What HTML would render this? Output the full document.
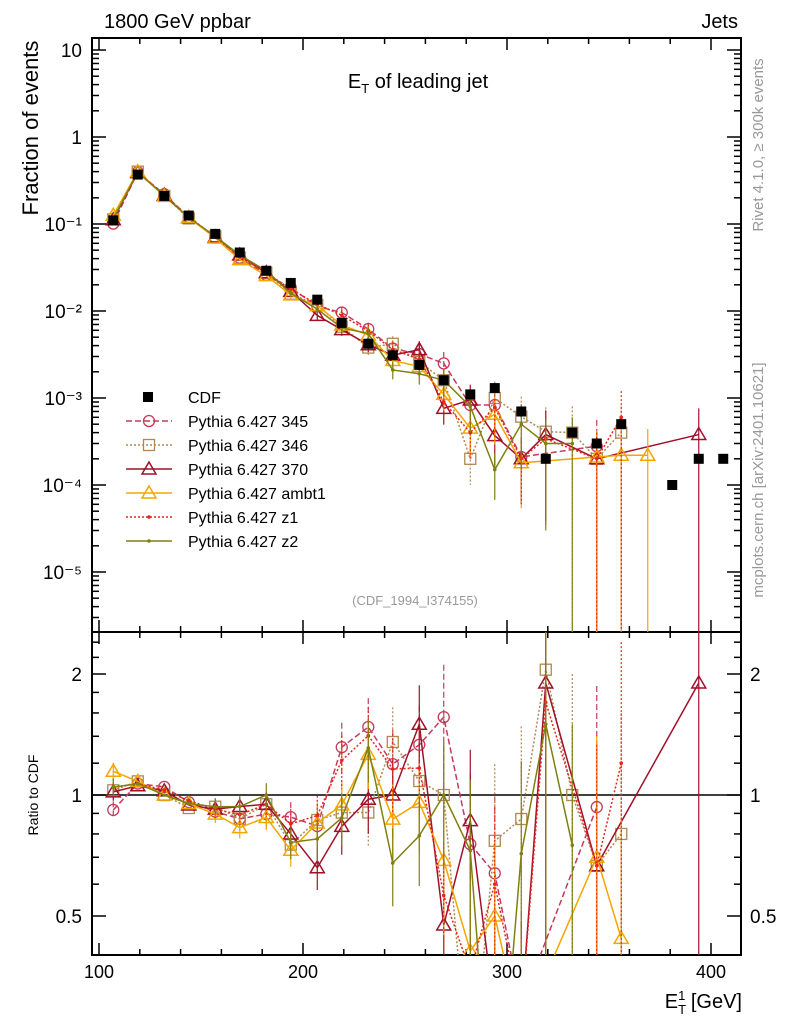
<!DOCTYPE html>
<html><head><meta charset="utf-8"><style>
html,body{margin:0;padding:0;background:#fff;overflow:hidden;width:786px;height:1024px;}
svg{display:block;}
svg text{font-family:"Liberation Sans",Arial,sans-serif;}
</style></head><body>
<svg id="c" width="786" height="1024" xmlns="http://www.w3.org/2000/svg">
<text x="104" y="28" font-size="20">1800 GeV ppbar</text>
<text x="738" y="28" font-size="20" text-anchor="end">Jets</text>
<text x="418" y="88" font-size="20" text-anchor="middle">E<tspan font-size="13" dy="5">T</tspan><tspan dy="-5"> of leading jet</tspan></text>
<text transform="translate(38,128) rotate(-90)" font-size="22" text-anchor="middle">Fraction of events</text>
<text transform="translate(38,795) rotate(-90)" font-size="14" text-anchor="middle">Ratio to CDF</text>
<text transform="translate(763,145) rotate(-90)" font-size="15" fill="#999" text-anchor="middle">Rivet 4.1.0, ≥ 300k events</text>
<text transform="translate(763,480) rotate(-90)" font-size="15" fill="#999" text-anchor="middle">mcplots.cern.ch [arXiv:2401.10621]</text>
<text x="415" y="605" font-size="13" fill="#999" text-anchor="middle">(CDF_1994_I374155)</text>
<text x="742" y="1008" font-size="20" text-anchor="end">E<tspan font-size="13" dy="6">T</tspan><tspan font-size="13" dx="-8" dy="-14">1</tspan><tspan dy="8"> [GeV]</tspan></text>
<g id="g"></g>
</svg>
<script>
const xs=[107,119,132,144,157,169,182,194,207,219,232,244,257,269,282,294,307,319,332,344,356,369,381,394,406];
const cdf=[0.11,0.37,0.21,0.125,0.077,0.047,0.029,0.021,0.0135,0.0073,0.0042,0.0031,0.0024,0.0016,0.0011,0.0013,0.0007,0.0002,0.0004,0.0003,0.0005,null,0.0001,0.0002,0.0002];
const s345=[0.101,0.395,0.22,0.12,0.07,0.041,0.026,0.0185,0.0113,0.0096,0.0062,0.0037,0.0032,0.0025,0.00083,0.00083,0.00021,null,null,0.00028];
const s346=[0.113,0.40,0.21,0.116,0.072,0.041,0.0275,0.0158,0.0117,0.0066,0.0038,0.0042,0.0026,0.0016,0.0002,0.001,0.00061,0.00041,0.0004,0.0002,0.0004];
const s370=[0.112,0.39,0.215,0.118,0.071,0.044,0.0275,0.0168,0.0089,0.0061,0.0041,0.0031,0.0036,0.00076,0.00095,0.00037,0.0002,0.00038,null,0.0002,null,null,null,0.00038];
const sambt1=[0.126,0.40,0.21,0.119,0.069,0.039,0.0255,0.0153,0.0115,0.0069,0.0053,0.0027,0.0023,0.0011,0.00045,0.00065,0.00018,null,null,0.00021,0.00022,0.00022];
const sz1=[0.115,0.395,0.216,0.121,0.071,0.042,0.0275,0.0178,0.012,0.0089,0.0059,0.0036,0.0028,0.0009,0.0004,0.00078,0.0002,0.00034,null,0.0002,0.0006];
const sz2=[0.115,0.395,0.21,0.119,0.072,0.044,0.029,0.016,0.0105,0.0064,0.0055,0.0021,0.0019,0.0016,0.0008,0.00015,0.0005,0.0003,0.0003];
const relErr=[0.05,0.03,0.03,0.03,0.05,0.06,0.07,0.09,0.12,0.15,0.18,0.22,0.25,0.35,0.5,0.55,0.7,0.9,1,1,1,1,1,1,1];
const series=[
 {name:"Pythia 6.427 345",d:s345,c:"#c43a5a",dash:"6,3",m:"circle",key:"345"},
 {name:"Pythia 6.427 346",d:s346,c:"#b08850",dash:"2,2",m:"square",key:"346"},
 {name:"Pythia 6.427 370",d:s370,c:"#a0102a",dash:"",m:"tri",key:"370"},
 {name:"Pythia 6.427 ambt1",d:sambt1,c:"#f5a500",dash:"",m:"tri",key:"ambt1"},
 {name:"Pythia 6.427 z1",d:sz1,c:"#e8251a",dash:"2,2",m:"dot",key:"z1"},
 {name:"Pythia 6.427 z2",d:sz2,c:"#808010",dash:"",m:"dot",key:"z2"}];
const xTicks=[100,200,300,400];
const yTicks=[1e-5,1e-4,1e-3,1e-2,1e-1,1,10];
const yTickLabels=["10⁻⁵","10⁻⁴","10⁻³","10⁻²","10⁻¹","1","10"];
const rTicks=[0.5,1,2];
const L=92,R=741,T=38,MB=632,RB=955;
const X=v=>99+(v-100)*2.04;
const Y=v=>137-87*Math.log10(v);
const RY=v=>795-121*Math.log2(v);
const g=document.getElementById('g');
const NS="http://www.w3.org/2000/svg";
function el(t,a,p){const e=document.createElementNS(NS,t);for(const k in a)e.setAttribute(k,a[k]);(p||g).appendChild(e);return e;}
const defs=el('defs',{});
const c1=el('clipPath',{id:'cm'},defs);el('rect',{x:L,y:T,width:R-L,height:MB-T},c1);
const c2=el('clipPath',{id:'cr'},defs);el('rect',{x:L,y:MB,width:R-L,height:RB-MB},c2);
const f1=el('rect',{x:L,y:T,width:R-L,height:MB-T,fill:'none',stroke:'#000','stroke-width':2});

const f2=el('rect',{x:L,y:MB,width:R-L,height:RB-MB,fill:'none',stroke:'#000','stroke-width':2});

for(let v=100;v<=410;v+=20){const x=X(v);const big=v%100==0;
 for(const [y0,d] of [[T,1],[MB,-1],[MB,1],[RB,-1]]){el('line',{x1:x,x2:x,y1:y0,y2:y0+d*(big?12:6),stroke:'#000','stroke-width':1.5});}}
xTicks.forEach(v=>{const t=el('text',{x:X(v),y:978,'font-size':18,'text-anchor':'middle'});t.textContent=v;
 });
for(let e=-6;e<=1;e++)for(let k=1;k<10;k++){const v=k*Math.pow(10,e);const y=Y(v);if(y<T||y>MB)continue;const l=k==1?14:7;
 el('line',{x1:L,x2:L+l,y1:y,y2:y,stroke:'#000','stroke-width':1.5});el('line',{x1:R,x2:R-l,y1:y,y2:y,stroke:'#000','stroke-width':1.5});}
yTicks.forEach((v,i)=>{const t=el('text',{x:82,y:Y(v)+7,'font-size':19,'text-anchor':'end'});t.textContent=yTickLabels[i];
 });
[0.4,0.5,0.6,0.7,0.8,0.9,1,1.2,1.4,1.6,1.8,2,2.2,2.4].forEach(v=>{const y=RY(v);const big=[0.5,1,2].includes(v);const l=big?14:7;
 el('line',{x1:L,x2:L+l,y1:y,y2:y,stroke:'#000','stroke-width':1.5});el('line',{x1:R,x2:R-l,y1:y,y2:y,stroke:'#000','stroke-width':1.5});});
rTicks.forEach(v=>{for(const [x,a] of [[82,'end'],[750,'start']]){const t=el('text',{x:x,y:RY(v)+7,'font-size':19,'text-anchor':a});t.textContent=v;
 }});
el('line',{x1:L,x2:R,y1:RY(1),y2:RY(1),stroke:'#000','stroke-width':1.5});
function marker(m,x,y,c,p){
 if(m=='circle')return el('circle',{cx:x,cy:y,r:5.5,fill:'none',stroke:c,'stroke-width':1.3},p);
 if(m=='square')return el('rect',{x:x-5.5,y:y-5.5,width:11,height:11,fill:'none',stroke:c,'stroke-width':1.3},p);
 if(m=='tri')return el('path',{d:`M${x-7},${y+5}L${x+7},${y+5}L${x},${y-7}Z`,fill:'none',stroke:c,'stroke-width':1.5},p);
 return el('circle',{cx:x,cy:y,r:1.8,fill:c},p);}
const gm=el('g',{'clip-path':'url(#cm)'});const gr=el('g',{'clip-path':'url(#cr)'});
series.forEach(s=>{
 let pts=[],rpts=[];
 s.d.forEach((v,i)=>{if(v==null)return;pts.push([X(xs[i]),Y(v),i,v]);if(cdf[i])rpts.push([X(xs[i]),RY(v/cdf[i]),i,v/cdf[i]]);});
 // error bars
 pts.forEach(p=>{const e=relErr[p[2]];if(e<0.08)return;const lo=p[3]*(1-e),hi=p[3]*(1+e);
  el('line',{x1:p[0],x2:p[0],y1:Y(hi),y2:lo>0?Y(lo):MB+5,stroke:s.c,'stroke-width':1.2,'stroke-dasharray':s.dash},gm);});
 rpts.forEach(p=>{const e=relErr[p[2]];if(e<0.04)return;const lo=p[3]*(1-e),hi=p[3]*(1+e);
  el('line',{x1:p[0],x2:p[0],y1:RY(hi),y2:lo>0?RY(lo):RB+5,stroke:s.c,'stroke-width':1.2,'stroke-dasharray':s.dash},gr);});
 const pl=el('polyline',{points:pts.map(p=>p[0]+','+p[1]).join(' '),fill:'none',stroke:s.c,'stroke-width':1.5,'stroke-dasharray':s.dash},gm);
 
 pts.forEach(p=>{const mk=marker(s.m,p[0],p[1],s.c,gm);});
 const rl=el('polyline',{points:rpts.map(p=>p[0]+','+p[1]).join(' '),fill:'none',stroke:s.c,'stroke-width':1.5,'stroke-dasharray':s.dash},gr);
 
 rpts.forEach(p=>{const mk=marker(s.m,p[0],p[1],s.c,gr);});
});
cdf.forEach((v,i)=>{if(v==null)return;const r=el('rect',{x:X(xs[i])-5,y:Y(v)-5,width:10,height:10,fill:'#000'},gm);
 });
const lg=el('g',{});
let ly=397;
el('rect',{x:143,y:ly-5,width:10,height:10,fill:'#000'},lg);
let t=el('text',{x:188,y:ly+6,'font-size':16},lg);t.textContent="CDF";
series.forEach((s,i)=>{const y=ly+24*(i+1);
 const e=el('g',{},lg);
 el('line',{x1:126,x2:172,y1:y,y2:y,stroke:s.c,'stroke-width':1.5,'stroke-dasharray':s.dash},e);
 marker(s.m,149,y,s.c,e);
 const tt=el('text',{x:188,y:y+6,'font-size':16},e);tt.textContent=s.name;});
</script>
</body></html>
